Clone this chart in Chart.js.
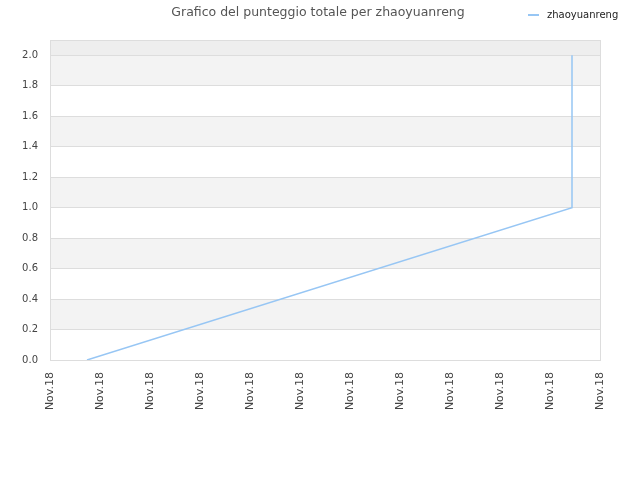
<!DOCTYPE html>
<html>
<head>
<meta charset="utf-8">
<script src="https://cdn.jsdelivr.net/npm/chart.js@4"></script>
<style>
  html, body { margin: 0; padding: 0; background: #fff; }
  #wrap { width: 640px; height: 480px; }
</style>
</head>
<body>
<div id="wrap"><canvas id="scoreChart" width="640" height="480"></canvas></div>
<script>
// chart data
const chartTitle = 'Grafico del punteggio totale per zhaoyuanreng';
const seriesName = 'zhaoyuanreng';
const xLabels = ['Nov.18', 'Nov.18', 'Nov.18', 'Nov.18', 'Nov.18', 'Nov.18',
                 'Nov.18', 'Nov.18', 'Nov.18', 'Nov.18', 'Nov.18', 'Nov.18'];
const pointX = [0.74, 10.44, 10.44];
const pointY = [0, 1, 2];

const lineColor = '#97c6f4';
const FONT = "'DejaVu Sans', Verdana, sans-serif";

// alternating background bands + top title/legend
const decorPlugin = {
    id: 'decor',
    beforeDraw(chart) {
        const ctx = chart.ctx;
        const area = chart.chartArea;
        const y = chart.scales.y;
        ctx.save();
        ctx.fillStyle = '#fff';
        ctx.fillRect(0, 0, chart.width, chart.height);
        for (let i = 0; i * 0.2 < y.max - 1e-9; i++) {
            const lo = i * 0.2;
            const hi = Math.min(lo + 0.2, y.max);
            let col = null;
            if (hi - lo < 0.199) col = '#eeeeee';
            else if (i % 2 === 1) col = '#f3f3f3';
            if (!col) continue;
            const top = y.getPixelForValue(hi);
            const bot = y.getPixelForValue(lo);
            ctx.fillStyle = col;
            ctx.fillRect(area.left, top, area.right - area.left, bot - top);
        }
        ctx.restore();
    },
    afterDraw(chart) {
        const ctx = chart.ctx;
        const area = chart.chartArea;
        ctx.save();
        ctx.strokeStyle = '#dddddd';
        ctx.lineWidth = 1;
        ctx.strokeRect(area.left + 0.5, area.top + 0.5, area.right - area.left, area.bottom - area.top);

        ctx.fillStyle = '#555';
        ctx.font = '12.5px ' + FONT;
        ctx.textAlign = 'center';
        ctx.textBaseline = 'middle';
        ctx.fillText(chartTitle, 318, 13);

        ctx.strokeStyle = lineColor;
        ctx.lineWidth = 2;
        ctx.beginPath();
        ctx.moveTo(528, 15);
        ctx.lineTo(539, 15);
        ctx.stroke();
        ctx.fillStyle = '#222';
        ctx.font = '10px ' + FONT;
        ctx.textAlign = 'left';
        ctx.fillText(seriesName, 547, 15);
        ctx.restore();
    }
};

new Chart(document.getElementById('scoreChart'), {
    type: 'line',
    data: {
        datasets: [{
            label: seriesName,
            data: pointX.map((x, i) => ({ x: x, y: pointY[i] })),
            borderColor: lineColor,
            backgroundColor: lineColor,
            borderWidth: 1.5,
            pointRadius: 0,
            tension: 0,
            fill: false
        }]
    },
    options: {
        responsive: false,
        animation: false,
        devicePixelRatio: 1,
        layout: { padding: { top: 40, right: 40, left: 0, bottom: 0 } },
        plugins: {
            legend: { display: false },
            title: { display: false },
            tooltip: { enabled: false }
        },
        scales: {
            x: {
                type: 'linear',
                min: 0,
                max: xLabels.length - 1,
                afterFit(scale) { scale.height = 120; },
                grid: { display: false, drawTicks: false },
                border: { display: false },
                ticks: {
                    stepSize: 1,
                    autoSkip: false,
                    minRotation: 90,
                    maxRotation: 90,
                    padding: 12,
                    color: '#444',
                    font: { family: FONT, size: 11 },
                    callback: (v) => xLabels[v] || ''
                }
            },
            y: {
                min: 0,
                max: 2.1,
                afterFit(scale) { scale.width = 50; },
                afterBuildTicks(scale) {
                    scale.ticks = scale.ticks.filter(t => t.value <= 2.0001);
                },
                grid: { color: '#dddddd', drawTicks: false },
                border: { display: false },
                ticks: {
                    stepSize: 0.2,
                    padding: 12,
                    color: '#444',
                    font: { family: FONT, size: 10 },
                    callback: (v) => v.toFixed(1)
                }
            }
        }
    },
    plugins: [decorPlugin]
});
</script>
</body>
</html>
